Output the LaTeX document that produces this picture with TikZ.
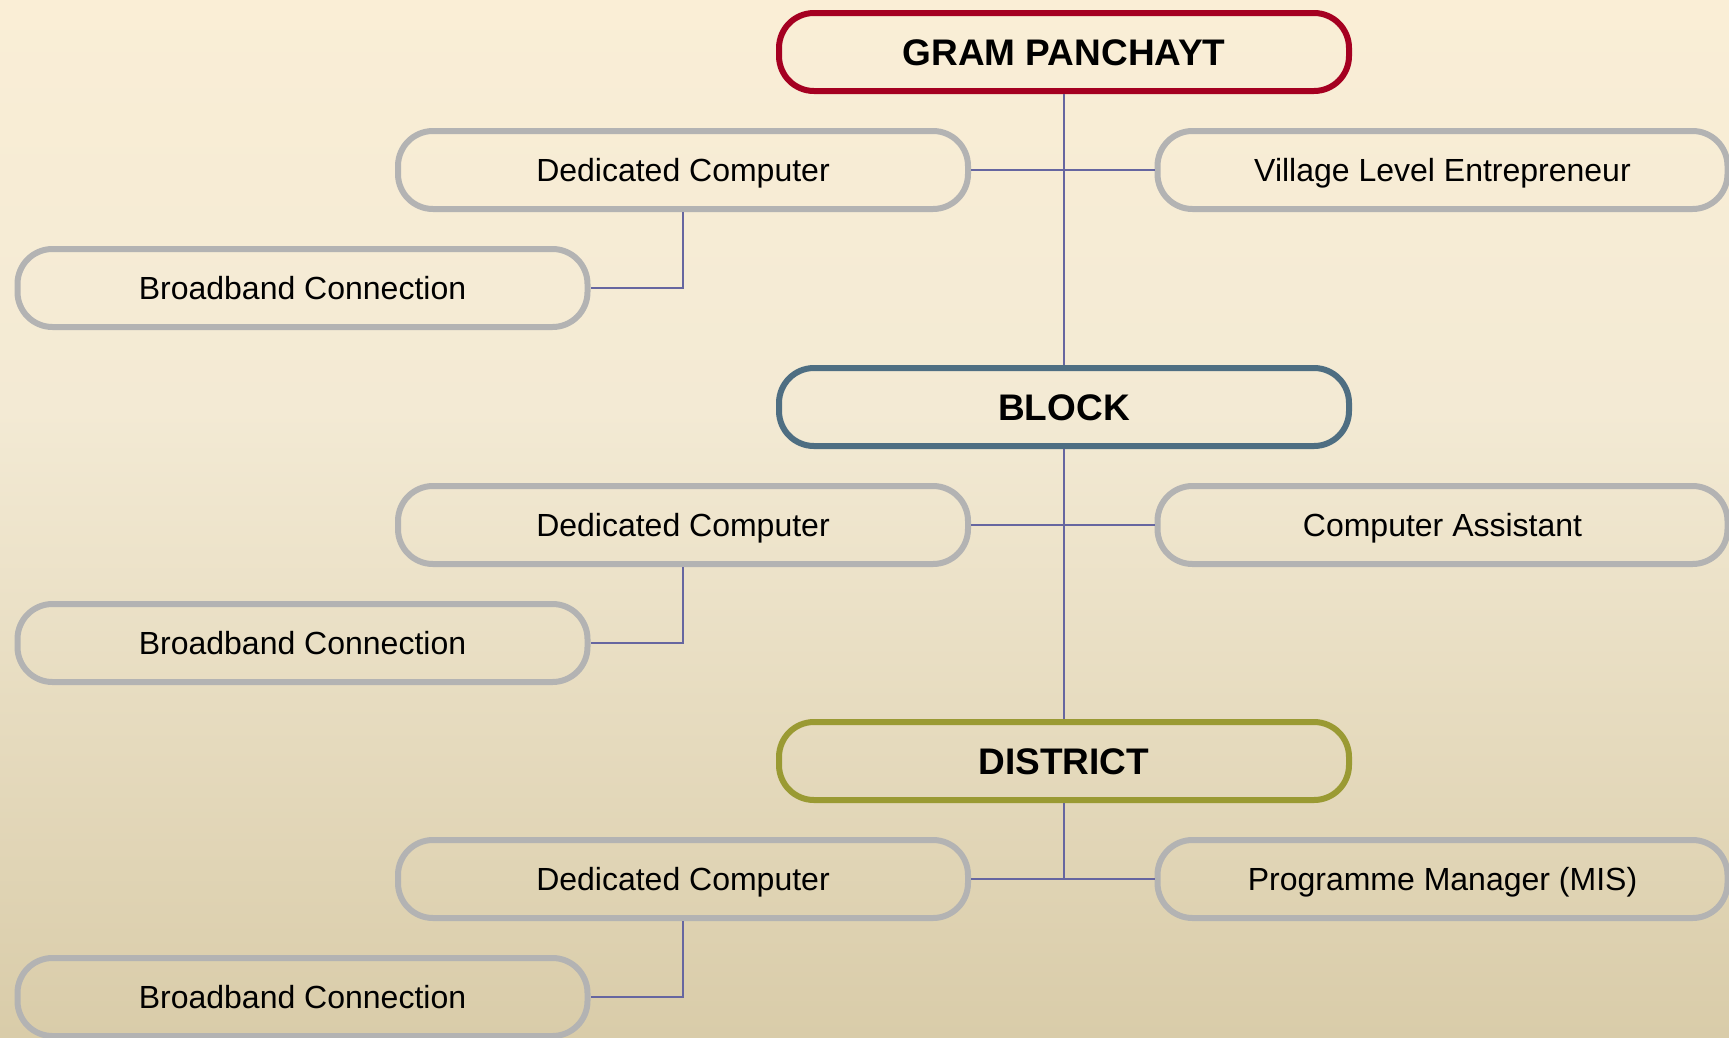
\documentclass[tikz,border=0pt]{standalone}
\usepackage{fontspec}
\setmainfont{Liberation Sans}
\definecolor{bgtop}{HTML}{FAEED6}
\definecolor{bgmid}{HTML}{F3EAD4}
\definecolor{bgbot}{HTML}{D9CCA9}
\definecolor{gpred}{HTML}{A50021}
\definecolor{blockblue}{HTML}{4E6E82}
\definecolor{distolive}{HTML}{9A9A33}
\definecolor{boxgray}{HTML}{B3B3B3}
\definecolor{connc}{HTML}{6666A0}
\tikzset{
  pill/.style={rectangle, rounded corners=35pt, minimum width=570pt, minimum height=78pt,
    line width=6pt, inner sep=0pt, text depth=0pt},
  itembox/.style={pill, draw=boxgray, font=\fontsize{32}{38}\selectfont, text height=23pt},
  levelbox/.style={pill, font=\bfseries\fontsize{37}{44}\selectfont, text height=26.5pt},
  conn/.style={draw=connc, line width=2.5pt}
}
\begin{document}
\begin{tikzpicture}[x=1pt,y=-1pt]
\useasboundingbox (0,0) rectangle (1729,1037);
\shade[top color=bgtop, bottom color=bgmid] (0,0) rectangle (1729,411);
\shade[top color=bgmid, bottom color=bgbot] (0,411) rectangle (1729,1037);

\node[levelbox, draw=gpred] (gp) at (1064,52) {GRAM PANCHAYT};
\node[itembox] (dc1) at (683,170) {Dedicated Computer};
\node[itembox] (vle) at (1442.5,170) {Village Level Entrepreneur};
\node[itembox] (bb1) at (302.5,288) {Broadband Connection};

\node[levelbox, draw=blockblue] (block) at (1064,407) {BLOCK};
\node[itembox] (dc2) at (683,525) {Dedicated Computer};
\node[itembox] (ca) at (1442.5,525) {Computer Assistant};
\node[itembox] (bb2) at (302.5,643) {Broadband Connection};

\node[levelbox, draw=distolive] (district) at (1064,761) {DISTRICT};
\node[itembox] (dc3) at (683,879) {Dedicated Computer};
\node[itembox] (pm) at (1442.5,879) {Programme Manager (MIS)};
\node[itembox] (bb3) at (302.5,997) {Broadband Connection};

\draw[conn] (gp.south) -- (block.north);
\draw[conn] (block.south) -- (district.north);
\draw[conn] (district.south) -- (district.south |- dc3.east);
\draw[conn] (dc1.east) -- (vle.west);
\draw[conn] (dc2.east) -- (ca.west);
\draw[conn] (dc3.east) -- (pm.west);
\draw[conn] (dc1.south) |- (bb1.east);
\draw[conn] (dc2.south) |- (bb2.east);
\draw[conn] (dc3.south) |- (bb3.east);
\end{tikzpicture}
\end{document}
